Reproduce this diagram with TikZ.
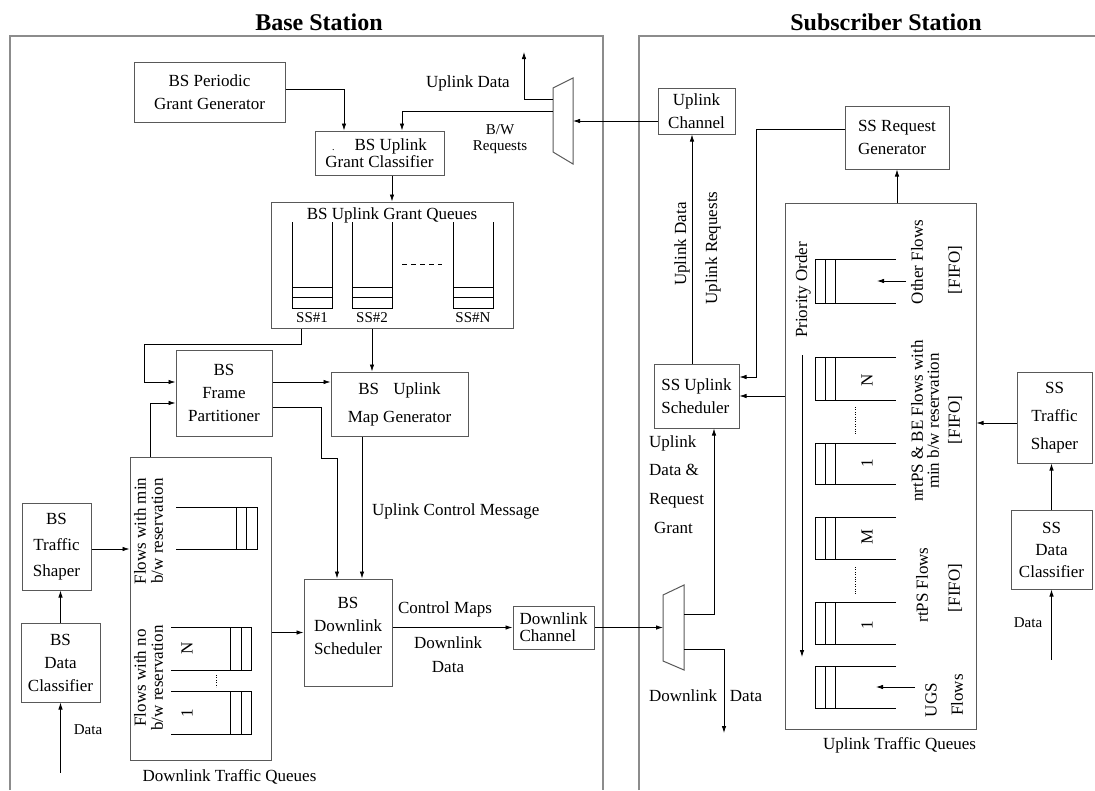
\documentclass[tikz,border=0pt]{standalone}
\usepackage{fontspec}
\setmainfont{Liberation Serif}
\usetikzlibrary{arrows.meta}

\definecolor{framegray}{gray}{0.55}
\definecolor{boxgray}{gray}{0.35}

\begin{document}
\begin{tikzpicture}[x=1pt, y=-1pt, >={Latex[length=7pt,width=4.5pt]},
  box/.style={draw=boxgray, line width=1pt, align=center, inner sep=2pt, font=\fontsize{17}{23}\selectfont},
  lbl/.style={inner sep=1pt, font=\fontsize{17}{17}\selectfont},
  sml/.style={inner sep=1pt, font=\fontsize{15}{16}\selectfont},
  ttl/.style={inner sep=1pt, font=\fontsize{24}{28}\selectfont\bfseries},
  wire/.style={line width=0.8pt},
  arr/.style={wire, ->},
  qline/.style={line width=0.8pt},
  mux/.style={draw=boxgray, line width=1pt},
  station/.style={draw=framegray, line width=1.6pt}]

\useasboundingbox (0,0) rectangle (1095,790);

\draw[station] (10,790) -- (10,36) -- (603,36) -- (603,790);
\draw[station] (639,790) -- (639,36) -- (1095,36);
\node[ttl] (bstitle) at (319,22) {Base Station};
\node[ttl] (sstitle) at (886,22) {Subscriber Station};

% base station
\node[box, minimum width=151, minimum height=60] (pgg) at (209.5,92) {BS Periodic\\Grant Generator};
\node[box, minimum width=129, minimum height=44, font=\fontsize{17}{17}\selectfont] (ugc) at (379.5,153)
  {{\fontsize{10}{10}\selectfont.}\hspace{20pt}BS Uplink\\Grant Classifier};
\node[box, minimum width=242, minimum height=126] (ugq) at (392,265) {};
\node[lbl] (ugqtitle) at (392,215) {BS Uplink Grant Queues};
\node[box, minimum width=96, minimum height=86] (fp) at (224,393) {BS\\Frame\\Partitioner};
\node[box, minimum width=137, minimum height=64, font=\fontsize{17}{28}\selectfont] (mg) at (399.5,404)
  {BS\hspace{10pt} Uplink\\Map Generator};
\node[box, minimum width=141, minimum height=303] (dq) at (200.5,608.5) {};
\node[box, minimum width=69, minimum height=87, font=\fontsize{17}{26}\selectfont] (bts) at (56.5,546.5) {BS\\Traffic\\Shaper};
\node[box, minimum width=79, minimum height=79] (bdc) at (60.5,662.5) {BS\\Data\\Classifier};
\node[box, minimum width=88, minimum height=107] (ds) at (348,632.5) {BS\\Downlink\\Scheduler\\[-9pt]\mbox{}};
\node[box, minimum width=81, minimum height=43, align=left, font=\fontsize{17}{17}\selectfont] (dch) at (553.5,627.5)
  {Downlink\\Channel};

% subscriber station
\node[box, minimum width=77, minimum height=46] (uch) at (696.5,111) {Uplink\\Channel};
\node[box, minimum width=104, minimum height=63, align=left] (srg) at (897,137.5) {SS Request\\Generator};
\node[box, minimum width=85, minimum height=64, align=left] (sus) at (696.5,396) {SS Uplink\\Scheduler};
\node[box, minimum width=191, minimum height=526] (utq) at (880.5,466) {};
\node[box, minimum width=75, minimum height=91, font=\fontsize{17}{28}\selectfont] (sts) at (1054.5,417.5) {SS\\Traffic\\Shaper};
\node[box, minimum width=81, minimum height=79, font=\fontsize{17}{22}\selectfont] (sdc) at (1051.5,549.5) {SS\\Data\\Classifier};

\draw[mux] (553,88) -- (573,78) -- (573,164) -- (553,152) -- cycle;
\draw[mux] (663,595) -- (684,585) -- (684,670) -- (663,661) -- cycle;
\coordinate (umuxin) at (573,121);
\coordinate (umuxreq) at (553,111);
\coordinate (umuxdata) at (553,99);
\coordinate (ulout) at (524,52);
\coordinate (dmuxin) at (663,627.5);
\coordinate (dmuxup) at (684,614);
\coordinate (dmuxdn) at (684,649);
\coordinate (dlout) at (724,733);
\coordinate (bsdata) at ([yshift=-70pt]bdc.south);
\coordinate (ssdata) at ([yshift=-70pt]sdc.south);

% queues
\foreach \l/\n in {292/1, 352/2, 453/N} {
  \draw[qline] (\l,222) -- (\l,308) -- (\l+40,308) -- (\l+40,222);
  \draw[qline] (\l,287) -- ++(40,0) (\l,297) -- ++(40,0);
  \node[sml] (ss\n) at (\l+20,318) {SS\#\n};
}
\draw[qline, dash pattern=on 5pt off 4pt] (402,264) -- (442,264);

\draw[qline] (176,507) -- (257,507) -- (257,549) -- (176,549);
\draw[qline] (236,507) -- (236,549) (246,507) -- (246,549);
\foreach \t/\b in {627/670, 691/734} {
  \draw[qline] (171,\t) -- (251,\t) -- (251,\b) -- (171,\b);
  \draw[qline] (230,\t) -- (230,\b) (241,\t) -- (241,\b);
}
\draw[dotted] (216,675) -- (216,687);

\foreach \t/\b in {259/303, 357/400, 443/484, 517/559, 602/644, 666/708} {
  \draw[qline] (896,\t) -- (815,\t) -- (815,\b) -- (896,\b);
  \draw[qline] (825,\t) -- (825,\b) (835,\t) -- (835,\b);
}
\draw[dotted] (855,407) -- (855,435);
\draw[dotted] (855,567) -- (855,595);

% labels
\node[lbl] (uldata) at (468,83) {Uplink Data};
\node[sml, align=center] (bwreq) at (500,139) {B/W\\Requests};
\node[lbl, anchor=west] (ucm) at (371,511) {Uplink Control Message};
\node[lbl] (cmaps) at (445,609) {Control Maps};
\node[lbl, align=center, font=\fontsize{17}{24}\selectfont] (dldata) at (448,655) {Downlink\\Data};
\node[lbl, anchor=north west, inner sep=0pt, align=left, font=\fontsize{17}{28.7}\selectfont] (ulgrant) at (649,435)
  {Uplink\\Data \&\\Request\\\hspace{5pt}Grant};
\node[lbl] (dlbl) at (683,696) {Downlink};
\node[lbl] (ddata) at (746,696) {Data};
\node[lbl, rotate=90] (uldatav) at (682,244) {Uplink Data};
\node[lbl, rotate=90] (ulreq) at (713,248) {Uplink Requests};
\node[sml] (bsdlbl) at (88,730) {Data};
\node[sml] (ssdlbl) at (1028,623) {Data};
\node[lbl] (dqlbl) at (229.5,777) {Downlink Traffic Queues};
\node[lbl] (utqlbl) at (899.5,745) {Uplink Traffic Queues};

\node[lbl, rotate=90, align=center] (dqmin) at (148.5,531) {Flows with min\\b/w reservation};
\node[lbl, rotate=90, align=center] (dqno) at (148.5,678) {Flows with no\\b/w reservation};
\node[lbl, rotate=90] (dqN) at (187,648) {N};
\node[lbl, rotate=90] (dq1) at (187,713) {1};

\node[lbl, rotate=90] (prio) at (803,290) {Priority Order};
\node[lbl, rotate=90] (oflows) at (917,262) {Other Flows};
\node[lbl, rotate=90] (fifoa) at (955,270) {[FIFO]};
\node[lbl, rotate=90, align=center, font=\fontsize{17}{16}\selectfont] (nrtps) at (925,421)
  {nrtPS \& BE Flows with\\min b/w reservation};
\node[lbl, rotate=90] (fifob) at (955,420) {[FIFO]};
\node[lbl, rotate=90] (rtps) at (922,585) {rtPS Flows};
\node[lbl, rotate=90] (fifoc) at (955,588) {[FIFO]};
\node[lbl, rotate=90] (ugs) at (931,700) {UGS};
\node[lbl, rotate=90] (ugsflows) at (957,695) {Flows};
\node[lbl, rotate=90] (qN) at (867,380) {N};
\node[lbl, rotate=90] (qn1) at (867,463) {1};
\node[lbl, rotate=90] (qM) at (867,537) {M};
\node[lbl, rotate=90] (qm1) at (867,625) {1};

\coordinate (priotop) at (802,355);
\coordinate (prioend) at (802,657);
\coordinate (ofin) at (906,281);
\coordinate (ofend) at (877,281);
\coordinate (ugsin) at (915,687);
\coordinate (ugsend) at (876,687);

% connectors
\draw[arr] ([yshift=3pt]pgg.east) -| ([xshift=-35.5pt]ugc.north);
\draw[arr] (umuxreq) -| ([xshift=22.5pt]ugc.north);
\draw[arr] (umuxdata) -| (ulout);
\draw[arr] ([yshift=-10pt]uch.west) -- (umuxin);
\draw[arr] (ugc.south -| ugq.north) -- (ugq.north);
\draw[arr] ([xshift=-91pt]ugq.south) -- ++(0,16) -| ([xshift=-31pt,yshift=11pt]fp.west) -- ([yshift=11pt]fp.west);
\draw[arr] ([xshift=-20pt]ugq.south) -- ([xshift=-20pt]ugq.south |- mg.north);
\draw[arr] ([yshift=11pt]fp.east) -- ([yshift=11pt]fp.east -| mg.west);
\draw[arr] ([yshift=-14pt]fp.east) -| ++(49,51) -| ([xshift=-11pt]ds.north);
\draw[arr] ([xshift=-37.5pt]mg.south) -- ([xshift=-37.5pt]mg.south |- ds.north);
\draw[arr] ([xshift=-50.5pt]dq.north) |- ([yshift=-10pt]fp.west);
\draw[arr] ([yshift=-2.5pt]bts.east) -- ([yshift=-2.5pt]bts.east -| dq.west);
\draw[arr] (bdc.north) -- (bdc.north |- bts.south);
\draw[arr] (bsdata) -- (bdc.south);
\draw[arr] (dq.east |- ds.west) -- (ds.west);
\draw[arr] (ds.east |- dch.west) -- (dch.west);
\draw[arr] (dch.east) -- (dmuxin);
\draw[arr] (dmuxup) -| ([xshift=17.5pt]sus.south);
\draw[arr] (dmuxdn) -| (dlout);
\draw[arr] ([xshift=-4.5pt]sus.north) -- ([xshift=-4.5pt]sus.north |- uch.south);
\draw[arr] ([yshift=8.5pt]srg.west) -- ++(-88,0) |- ([yshift=19pt]sus.east);
\draw[arr] (utq.west |- sus.east) -- (sus.east);
\draw[arr] (srg.south |- utq.north) -- (srg.south);
\draw[arr] ([yshift=-5.5pt]sts.west) -- ([yshift=-5.5pt]sts.west -| utq.east);
\draw[arr] (sdc.north) -- (sdc.north |- sts.south);
\draw[arr] (ssdata) -- (sdc.south);
\draw[arr] (priotop) -- (prioend);
\draw[arr] (ofin) -- (ofend);
\draw[arr] (ugsin) -- (ugsend);

\end{tikzpicture}
\end{document}
